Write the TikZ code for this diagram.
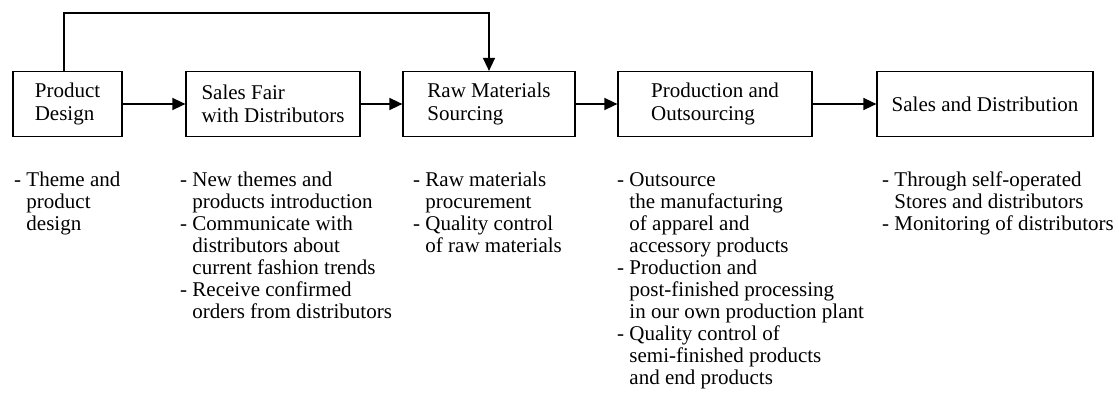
\documentclass[tikz,border=0pt]{standalone}
\usepackage{fontspec}
\setmainfont{Liberation Serif}
\usetikzlibrary{arrows.meta}
\newcommand{\indt}{\phantom{- }}
\begin{document}
\begin{tikzpicture}[x=1pt,y=1pt]
        \tikzset{
            box/.style={draw, line width=1.2pt, align=left, minimum height=65pt,
            inner sep=0pt, font=\fontsize{21}{23}\selectfont},
            lst/.style={anchor=north west, align=left, inner sep=0pt,
            font=\fontsize{21}{22}\selectfont},
            c1/.style={-{Triangle[length=13pt,width=12pt]}, line width=1.4pt}
            }
            \useasboundingbox (0,0) rectangle (1119,-393);

            \node[box, minimum width=109pt] (b1) at (67.5,-104) {Product\\Design};
            \node[box, minimum width=174pt] (b2) at (273,-104) {Sales Fair\\with Distributors};
            \node[box, minimum width=172pt] (b3) at (489,-104) {Raw Materials\\Sourcing};
            \node[box, minimum width=194pt] (b4) at (715,-104) {Production and\\Outsourcing};
            \node[box, minimum width=216pt] (b5) at (985,-104) {Sales and Distribution};

            \node[lst] (t1) at (14,-172) {- Theme and\\\indt product\\\indt design};
            \node[lst] (t2) at (180,-172) {- New themes and\\\indt products introduction\\- Communicate with\\\indt distributors about\\\indt current fashion trends\\- Receive confirmed\\\indt orders from distributors};
            \node[lst] (t3) at (413,-172) {- Raw materials\\\indt procurement\\- Quality control\\\indt of raw materials};
            \node[lst] (t4) at (617,-172) {- Outsource\\\indt the manufacturing\\\indt of apparel and\\\indt accessory products\\- Production and\\\indt post-finished processing\\\indt in our own production plant\\- Quality control of\\\indt semi-finished products\\\indt and end products};
            \node[lst] (t5) at (882,-172) {- Through self-operated\\\indt Stores and distributors\\- Monitoring of distributors};

            \draw[c1] (b1) -- (b2);
            \draw[c1] (b2) -- (b3);
            \draw[c1] (b3) -- (b4);
            \draw[c1] (b4) -- (b5);
            \draw[c1] ([xshift=-3.5pt]b1.north) -- ++(0,58) -| (b3.north);
        \end{tikzpicture}
\end{document}
